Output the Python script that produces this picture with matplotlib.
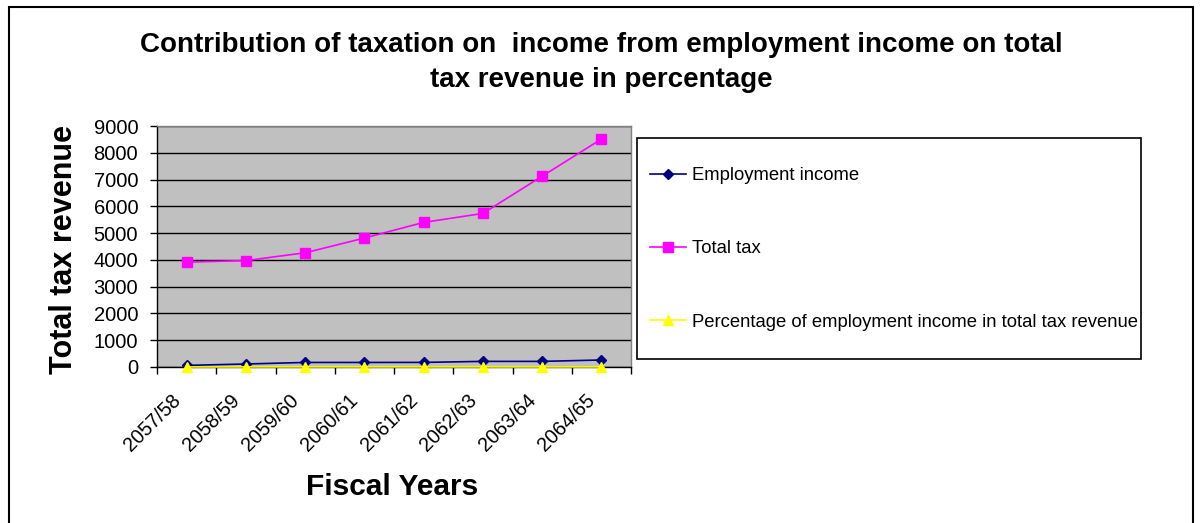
import matplotlib
matplotlib.use("Agg")
import matplotlib.pyplot as plt
from matplotlib.patches import Rectangle
from matplotlib.ticker import MultipleLocator, FixedLocator
from matplotlib.transforms import ScaledTranslation

plt.rcParams['font.family'] = ['Liberation Sans', 'DejaVu Sans']

# Fiscal years (Nepali calendar) and series
fiscal_years = ['2057/58', '2058/59', '2059/60', '2060/61',
                '2061/62', '2062/63', '2063/64', '2064/65']
employment_income = [60, 112, 170, 170, 172, 210, 210, 262]
total_tax = [3915, 3975, 4265, 4815, 5400, 5735, 7125, 8510]
employment_share_pct = [1.5, 2.8, 4.0, 3.5, 3.2, 3.7, 2.9, 3.1]

W, H = 1200, 523
fig = plt.figure(figsize=(W / 100, H / 100), dpi=100)
fig.patch.set_facecolor('white')

# outer chart border
fig.add_artist(Rectangle((9 / W, -0.05), (1193 - 9) / W, (1 - 7 / H) + 0.05,
                         transform=fig.transFigure, fill=False,
                         edgecolor='black', linewidth=1.5))

ax = fig.add_axes([157 / W, 1 - 367 / H, (631 - 157) / W, (367 - 126) / H])
ax.set_facecolor('#C0C0C0')

x = range(len(fiscal_years))
ax.plot(x, employment_income, color='#000080', marker='D', markersize=5.5,
        linewidth=1.2, label='Employment income', zorder=4)
ax.plot(x, total_tax, color='#FF00FF', marker='s', markersize=6.5,
        linewidth=1.2, label='Total tax', zorder=4)
ax.plot(x, employment_share_pct, color='#FFFF00', marker='^', markersize=7,
        linewidth=1.2, label='Percentage of employment income in total tax revenue',
        zorder=5, clip_on=False)

ax.set_xlim(-0.5, len(fiscal_years) - 0.5)
ax.set_ylim(0, 9000)
ax.yaxis.set_major_locator(MultipleLocator(1000))
ax.grid(axis='y', color='black', linewidth=1.0, zorder=1)
ax.set_axisbelow(True)

for side in ('left', 'bottom'):
    ax.spines[side].set_color('black')
    ax.spines[side].set_linewidth(1.0)
for side in ('top', 'right'):
    ax.spines[side].set_color('#808080')
    ax.spines[side].set_linewidth(1.0)

ax.set_xticks(list(x))
ax.set_xticklabels(fiscal_years, rotation=45, ha='right', va='center',
                   rotation_mode='anchor', fontsize=14.3)
ax.xaxis.set_minor_locator(FixedLocator([i - 0.5 for i in range(len(fiscal_years) + 1)]))
ax.tick_params(axis='x', which='major', length=0, pad=22)
ax.tick_params(axis='x', which='minor', length=5, width=1, color='black', direction='out')
ax.tick_params(axis='y', which='major', length=5, width=1, color='black',
               direction='out', labelsize=14.5, pad=8.5)

# nudge the slanted year labels slightly left of each category centre
shift = ScaledTranslation(-9 / 100, 0, fig.dpi_scale_trans)
for lbl in ax.get_xticklabels():
    lbl.set_transform(lbl.get_transform() + shift)

fig.text(64 / W, 1 - 249 / H, 'Total tax revenue', fontsize=22, fontweight='bold',
         rotation=90, ha='center', va='center')

fig.text(392.5 / W, 1 - 487 / H, 'Fiscal Years', fontsize=21.5, fontweight='bold',
         ha='center', va='center')

fig.text(601 / W, 1 - 45 / H,
         'Contribution of taxation on  income from employment income on total',
         fontsize=20, fontweight='bold', ha='center', va='center')
fig.text(601 / W, 1 - 80 / H, 'tax revenue in percentage',
         fontsize=20, fontweight='bold', ha='center', va='center')

# legend box and entries
fig.add_artist(Rectangle((637 / W, 1 - 359 / H), (1141 - 637) / W, (359 - 138) / H,
                         transform=fig.transFigure, fill=True, facecolor='white',
                         edgecolor='black', linewidth=1.2, zorder=2))
leg = fig.legend(loc='upper left', bbox_to_anchor=(650 / W, 1 - 167 / H),
                 fontsize=13.3, frameon=False, borderpad=0, labelspacing=3.05,
                 handlelength=1.95, handletextpad=0.3, borderaxespad=0)
leg.set_zorder(3)

fig.savefig('out.png', dpi=100, facecolor='white')
